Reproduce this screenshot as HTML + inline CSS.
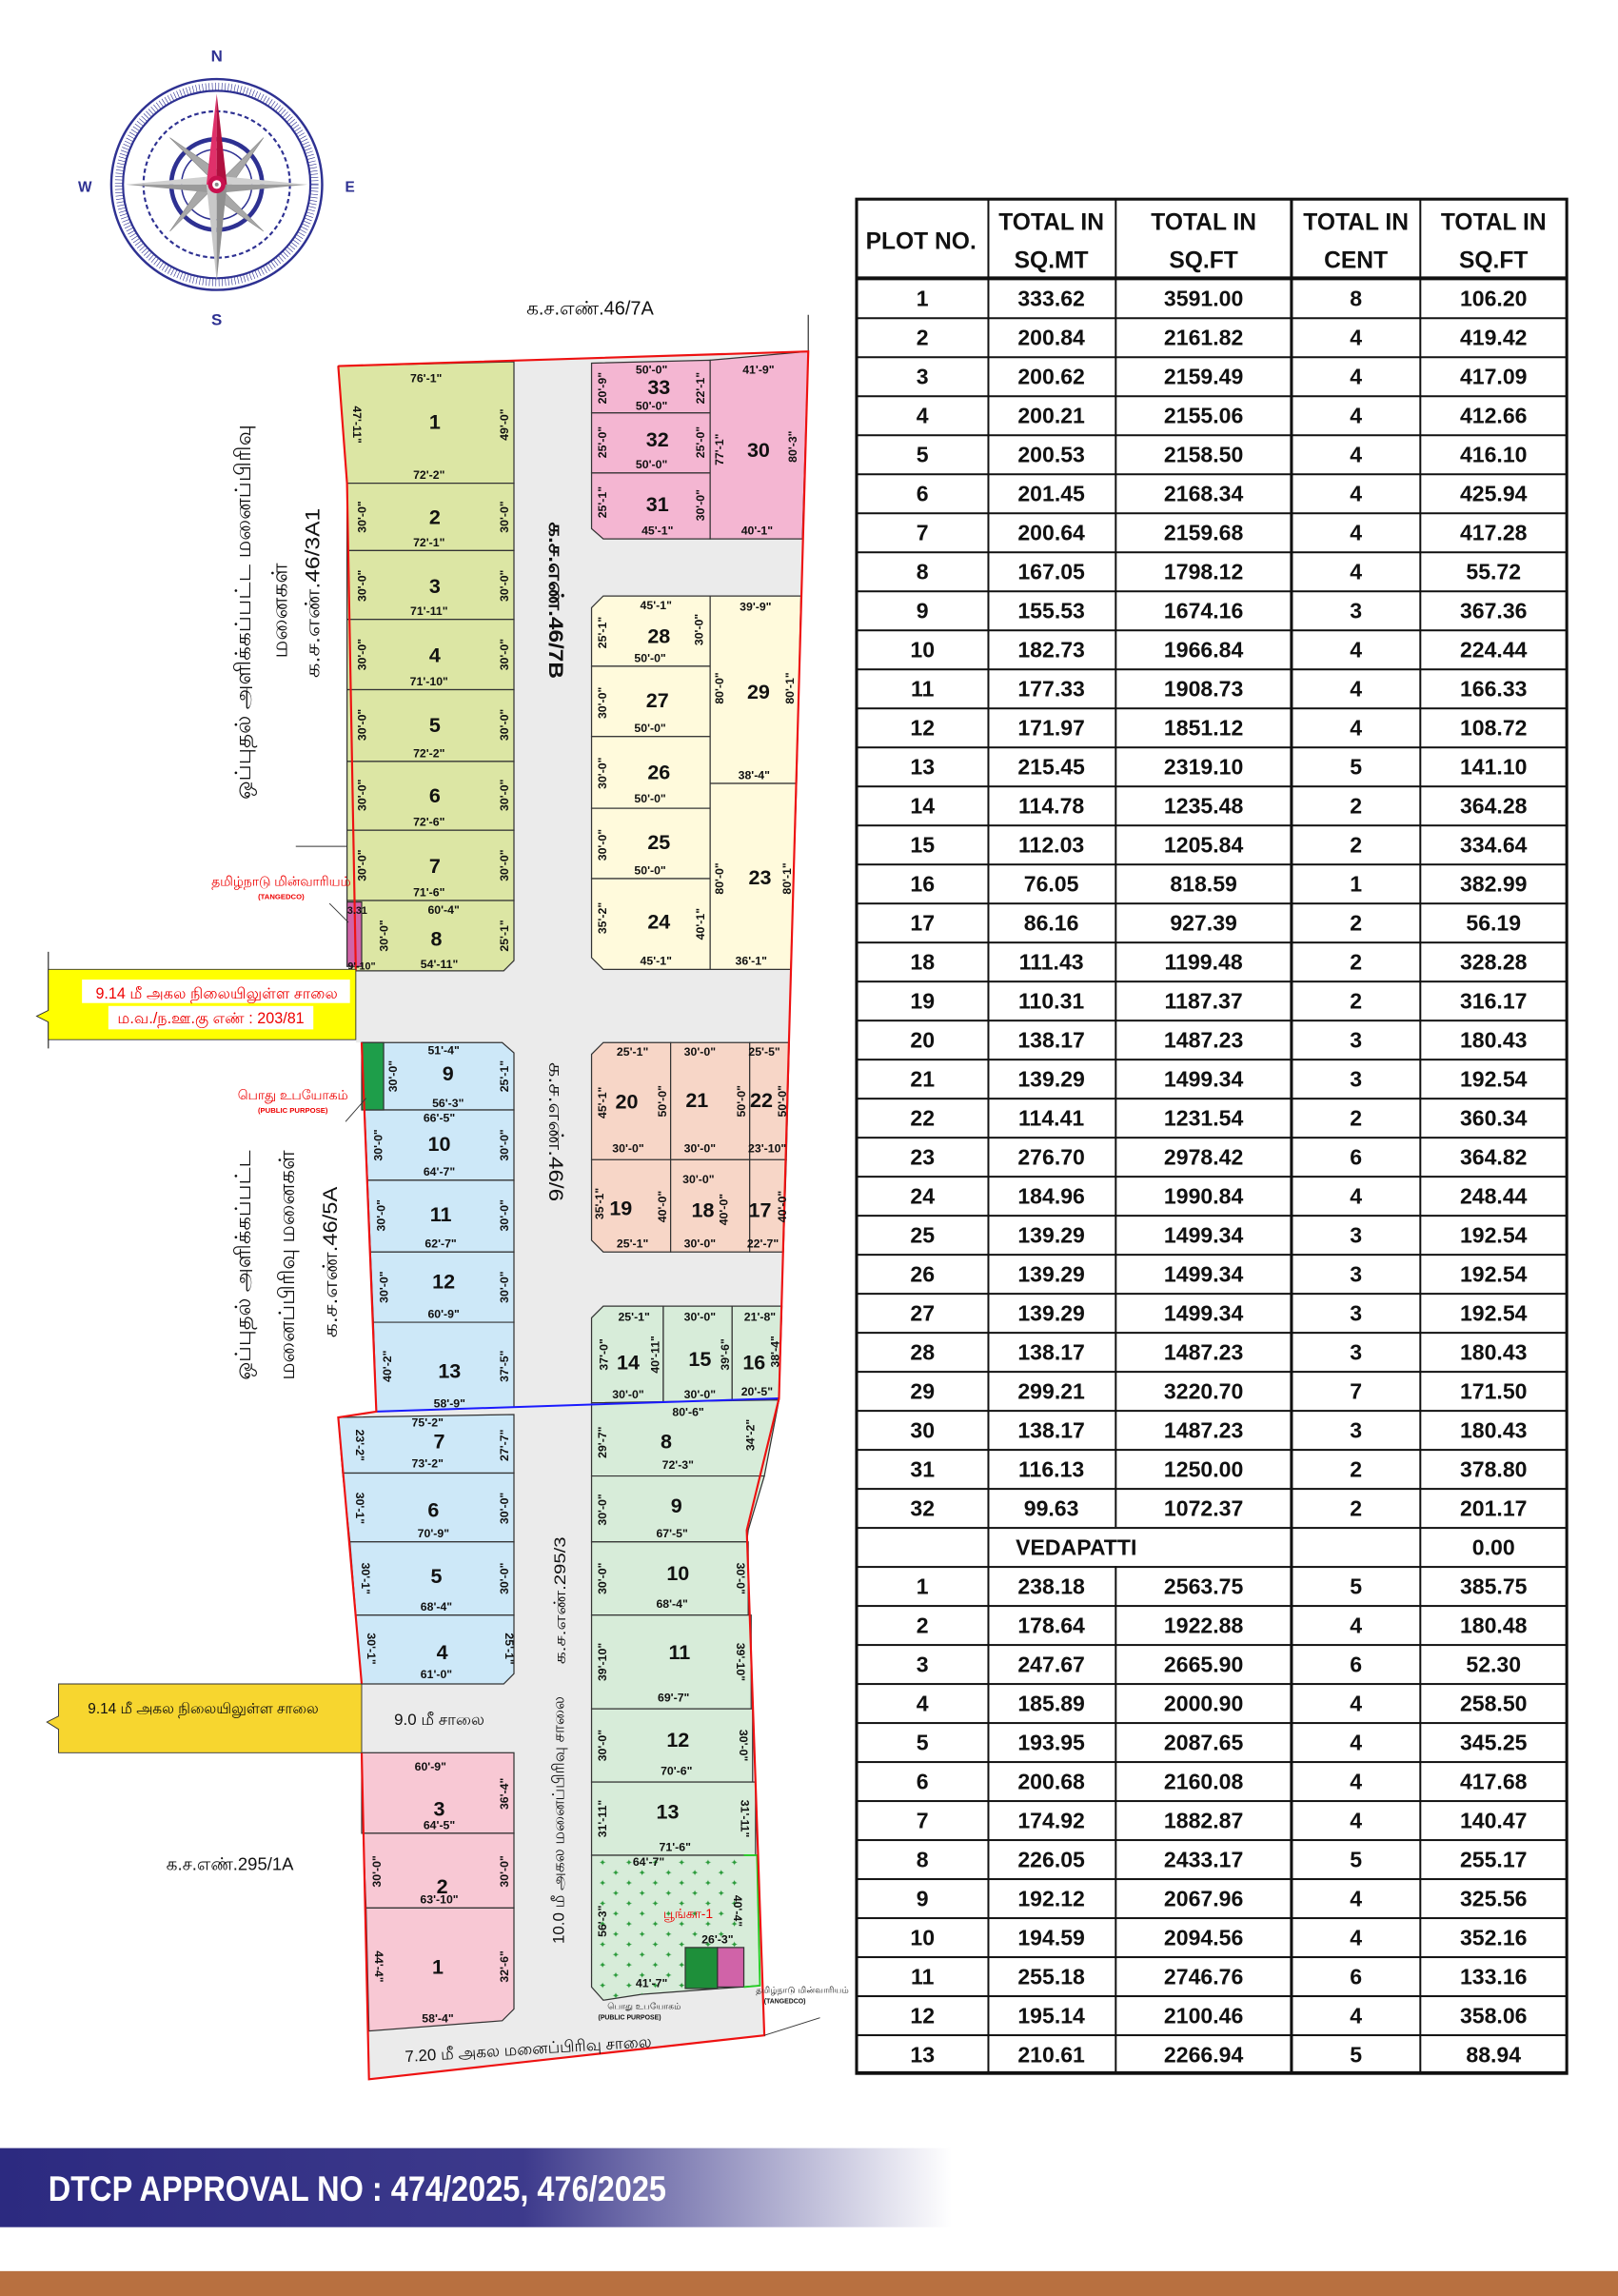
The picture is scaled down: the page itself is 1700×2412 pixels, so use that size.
<!DOCTYPE html>
<html><head><meta charset="utf-8">
<style>
html,body{margin:0;padding:0;background:#fff}
svg{display:block}
.n{font-family:"Liberation Sans",sans-serif;font-weight:bold;font-size:14px;text-anchor:middle;fill:#111}
.d{font-family:"Liberation Sans",sans-serif;font-weight:bold;font-size:8px;text-anchor:middle;fill:#111}
.tm{font-family:"Liberation Sans","DejaVu Sans",sans-serif;fill:#111}
.th{font-family:"Liberation Sans Narrow","Liberation Sans",sans-serif;font-weight:bold;font-size:16px;text-anchor:middle;fill:#111}
.tr tspan{text-anchor:middle}
.tr{font-family:"Liberation Sans Narrow","Liberation Sans",sans-serif;font-weight:bold;font-size:15px;fill:#111}
</style></head><body>
<svg width="1700" height="2412" viewBox="0 0 1105 1568" preserveAspectRatio="none" xmlns="http://www.w3.org/2000/svg">
<defs>
<pattern id="rows" x="0" y="190" width="10" height="26.65" patternUnits="userSpaceOnUse"><rect width="10" height="1.3" fill="#111"/></pattern>
<pattern id="park" x="0" y="0" width="18" height="14" patternUnits="userSpaceOnUse"><text x="4" y="7" font-size="6" fill="#2a9a3a" font-family="DejaVu Sans">✦</text><text x="13" y="14" font-size="6" fill="#2a9a3a" font-family="DejaVu Sans">✦</text></pattern>
<linearGradient id="ban" x1="0" x2="1" y1="0" y2="0"><stop offset="0" stop-color="#2c2a80"/><stop offset="0.55" stop-color="#3d3a8c"/><stop offset="1" stop-color="#fff"/></linearGradient>
</defs>

<!-- Compass -->
<g>
<circle cx="148" cy="126" r="72" fill="none" stroke="#2e3192" stroke-width="1.6"/>
<circle cx="148" cy="126" r="64" fill="none" stroke="#2e3192" stroke-width="1.4"/>
<circle cx="148" cy="126" r="67" fill="none" stroke="#2e3192" stroke-width="5" stroke-dasharray="0.4 1.8"/>
<circle cx="148" cy="126" r="50" fill="none" stroke="#2e3192" stroke-width="1.4" stroke-dasharray="3 2"/>
<circle cx="148" cy="126" r="31" fill="none" stroke="#2e3192" stroke-width="3"/>
<circle cx="148" cy="126" r="24" fill="none" stroke="#2e3192" stroke-width="1"/>
<g fill="#a8a8a8" stroke="#888" stroke-width="0.4">
<polygon points="148,126 116,94 154,120"/>
<polygon points="148,126 180,94 154,132"/>
<polygon points="148,126 180,158 142,132"/>
<polygon points="148,126 116,158 142,120"/>
</g>
<polygon points="86,126 148,120 148,126" fill="#d0d0d0"/><polygon points="86,126 148,132 148,126" fill="#9a9a9a"/>
<polygon points="210,126 148,120 148,126" fill="#d0d0d0"/><polygon points="210,126 148,132 148,126" fill="#9a9a9a"/>
<polygon points="148,192 141,126 148,126" fill="#c8c8c8"/><polygon points="148,192 155,126 148,126" fill="#8f8f8f"/>
<polygon points="148,64 141,126 148,126" fill="#e0306a"/><polygon points="148,64 155,126 148,126" fill="#b0103f"/>
<circle cx="148" cy="126" r="6" fill="#c8104e"/><circle cx="148" cy="126" r="3" fill="#fff"/><circle cx="148" cy="126" r="1.3" fill="#888"/>
<text x="148" y="42" class="n" style="font-size:11px;fill:#2e3192">N</text>
<text x="148" y="222" class="n" style="font-size:11px;fill:#2e3192">S</text>
<text x="58" y="131" class="n" style="font-size:10px;fill:#2e3192">W</text>
<text x="239" y="131" class="n" style="font-size:10px;fill:#2e3192">E</text>
</g>

<text x="403" y="215" class="tm" font-size="13" text-anchor="middle" font-family="Liberation Serif">க.ச.எண்.46/7A</text>
<line x1="552" y1="215" x2="552" y2="242" stroke="#333" stroke-width="0.8"/>

<!-- road background -->
<polygon points="231,250 552,240 532,955 510,1045 522,1390 252,1420 247,1197 247,1150 231,968 257,964 247,712 243,712 243,663 240,663 237,330" fill="#ebebeb"/>

<g stroke="#333" stroke-width="0.8">
<g fill="#dce6a4">
<polygon points="231,250 351,247 351,330 237,330"/>
<rect x="237" y="330" width="114" height="46"/>
<rect x="237" y="376" width="114" height="47"/>
<rect x="237" y="423" width="114" height="48"/>
<rect x="237" y="471" width="114" height="49"/>
<rect x="237" y="520" width="114" height="47"/>
<rect x="237" y="567" width="114" height="48"/>
<polygon points="237,615 351,615 351,656 344,663 240,663"/>
</g>
<rect x="237" y="616" width="10" height="44" fill="#d063a8"/>
<g fill="#cde8f8">
<polygon points="247,712 343,712 351,719 351,758 249,758"/>
<polygon points="249,758 351,758 351,806 251,806"/>
<polygon points="251,806 351,806 351,855 253,855"/>
<polygon points="253,855 351,855 351,903 255,903"/>
<polygon points="255,903 351,903 351,961 257,964"/>
<polygon points="231,968 351,966 351,1006 234,1006"/>
<polygon points="234,1006 351,1006 351,1053 239,1053"/>
<polygon points="239,1053 351,1053 351,1103 243,1103"/>
<polygon points="243,1103 351,1103 351,1143 344,1150 247,1150"/>
</g>
<rect x="247" y="712" width="15" height="46" fill="#1e9e4a"/>
<g fill="#f8c8d4">
<rect x="247" y="1197" width="104" height="55"/>
<polygon points="248,1252 351,1252 351,1303 250,1303"/>
<polygon points="250,1303 351,1303 351,1372 343,1380 252,1387"/>
</g>
<g fill="#f4b6d2">
<polygon points="404,248 485,246 485,282 404,282"/>
<rect x="404" y="282" width="81" height="41"/>
<polygon points="404,323 485,323 485,368 412,368 404,361"/>
<polygon points="485,246 552,240 548,368 485,368"/>
</g>
<g fill="#fffadc">
<polygon points="412,407 485,407 485,455 404,455 404,415"/>
<rect x="404" y="455" width="81" height="48"/>
<rect x="404" y="503" width="81" height="49"/>
<rect x="404" y="552" width="81" height="48"/>
<polygon points="404,600 485,600 485,662 412,662 404,654"/>
<polygon points="485,407 547,407 544,535 485,535"/>
<polygon points="485,535 544,535 540,662 485,662"/>
</g>
<g fill="#f7d6c7">
<polygon points="412,712 458,712 458,792 404,792 404,720"/>
<rect x="458" y="712" width="54" height="80"/>
<polygon points="512,712 539,712 537,792 512,792"/>
<polygon points="404,792 458,792 458,855 412,855 404,847"/>
<rect x="458" y="792" width="54" height="63"/>
<polygon points="512,792 537,792 535,855 512,855"/>
</g>
<g fill="#d7ecd9">
<polygon points="412,892 453,892 453,958 404,958 404,900"/>
<rect x="453" y="892" width="47" height="66"/>
<polygon points="500,892 534,892 532,956 500,957"/>
<polygon points="404,958 532,956 522,1008 404,1008"/>
<polygon points="404,1008 522,1008 511,1045 510,1053 404,1053"/>
<rect x="404" y="1053" width="107" height="50"/>
<rect x="404" y="1103" width="109" height="64"/>
<rect x="404" y="1167" width="110" height="50"/>
<rect x="404" y="1217" width="112" height="50"/>
</g>
<polygon points="404,1267 517,1267 519,1356 438,1362 412,1366 404,1357" fill="#d7ecd9"/>
<polygon points="404,1267 508,1267 508,1357 438,1362 412,1366 404,1357" fill="url(#park)" stroke="none"/>
<rect x="468" y="1330" width="22" height="28" fill="#1e8f3a"/>
<rect x="490" y="1330" width="18" height="27" fill="#d063a8"/>
</g>
<polyline points="508,1267 517,1267 519,1356 508,1357" fill="none" stroke="#22cc22" stroke-width="1.2"/>
<line x1="257" y1="964" x2="532" y2="955" stroke="#1a1aff" stroke-width="1.3"/>
<polyline points="231,250 552,240 532,955 510,1045 522,1390 252,1420 247,1197" fill="none" stroke="#ee1111" stroke-width="1.4"/>
<polyline points="247,1150 231,968 257,964 247,712" fill="none" stroke="#ee1111" stroke-width="1.4"/>
<polyline points="243,663 237,330 231,250" fill="none" stroke="#ee1111" stroke-width="1.4"/>
<line x1="522" y1="1390" x2="560" y2="1378" stroke="#333" stroke-width="0.6"/>

<text class="n" x="297" y="293">1</text><text class="d" x="291" y="261">76'-1"</text><text class="d" x="293" y="327">72'-2"</text>
<text class="d" transform="translate(241 290) rotate(90)">47'-11"</text><text class="d" transform="translate(347 290) rotate(-90)">49'-0"</text>
<text class="n" x="297" y="358">2</text><text class="d" x="293" y="373">72'-1"</text>
<text class="n" x="297" y="405">3</text><text class="d" x="293" y="420">71'-11"</text>
<text class="n" x="297" y="452">4</text><text class="d" x="293" y="468">71'-10"</text>
<text class="n" x="297" y="500">5</text><text class="d" x="293" y="517">72'-2"</text>
<text class="n" x="297" y="548">6</text><text class="d" x="293" y="564">72'-6"</text>
<text class="n" x="297" y="596">7</text><text class="d" x="293" y="612">71'-6"</text>
<text class="n" x="298" y="646">8</text><text class="d" x="303" y="624">60'-4"</text><text class="d" x="300" y="661">54'-11"</text>
<g class="d">
<text transform="translate(250 353) rotate(-90)">30'-0"</text><text transform="translate(347 353) rotate(-90)">30'-0"</text>
<text transform="translate(250 400) rotate(-90)">30'-0"</text><text transform="translate(347 400) rotate(-90)">30'-0"</text>
<text transform="translate(250 447) rotate(-90)">30'-0"</text><text transform="translate(347 447) rotate(-90)">30'-0"</text>
<text transform="translate(250 495) rotate(-90)">30'-0"</text><text transform="translate(347 495) rotate(-90)">30'-0"</text>
<text transform="translate(250 543) rotate(-90)">30'-0"</text><text transform="translate(347 543) rotate(-90)">30'-0"</text>
<text transform="translate(250 591) rotate(-90)">30'-0"</text><text transform="translate(347 591) rotate(-90)">30'-0"</text>
<text transform="translate(265 639) rotate(-90)">30'-0"</text><text transform="translate(347 639) rotate(-90)">25'-1"</text>
<text x="244" y="624" style="font-size:7px">3.31</text><text x="247" y="662" style="font-size:7px">9'-10"</text>
</g>
<text class="n" x="306" y="738">9</text><text class="d" x="303" y="720">51'-4"</text><text class="d" x="306" y="756">56'-3"</text>
<text class="n" x="300" y="786">10</text><text class="d" x="300" y="766">66'-5"</text><text class="d" x="300" y="803">64'-7"</text>
<text class="n" x="301" y="834">11</text><text class="d" x="301" y="852">62'-7"</text>
<text class="n" x="303" y="880">12</text><text class="d" x="303" y="900">60'-9"</text>
<text class="n" x="307" y="941">13</text><text class="d" x="307" y="961">58'-9"</text>
<g class="d">
<text transform="translate(271 735) rotate(-90)">30'-0"</text><text transform="translate(347 735) rotate(-90)">25'-1"</text>
<text transform="translate(261 782) rotate(-90)">30'-0"</text><text transform="translate(347 782) rotate(-90)">30'-0"</text>
<text transform="translate(263 830) rotate(-90)">30'-0"</text><text transform="translate(347 830) rotate(-90)">30'-0"</text>
<text transform="translate(265 879) rotate(-90)">30'-0"</text><text transform="translate(347 879) rotate(-90)">30'-0"</text>
<text transform="translate(267 933) rotate(-90)">40'-2"</text><text transform="translate(347 933) rotate(-90)">37'-5"</text>
</g>
<text class="n" x="300" y="989">7</text><text class="d" x="292" y="974">75'-2"</text><text class="d" x="292" y="1002">73'-2"</text>
<text class="n" x="296" y="1036">6</text><text class="d" x="296" y="1050">70'-9"</text>
<text class="n" x="298" y="1081">5</text><text class="d" x="298" y="1100">68'-4"</text>
<text class="n" x="302" y="1133">4</text><text class="d" x="298" y="1146">61'-0"</text>
<g class="d">
<text transform="translate(243 987) rotate(90)">23'-2"</text><text transform="translate(347 987) rotate(-90)">27'-7"</text>
<text transform="translate(243 1030) rotate(90)">30'-1"</text><text transform="translate(347 1030) rotate(-90)">30'-0"</text>
<text transform="translate(247 1078) rotate(90)">30'-1"</text><text transform="translate(347 1078) rotate(-90)">30'-0"</text>
<text transform="translate(251 1126) rotate(90)">30'-1"</text><text transform="translate(345 1126) rotate(90)">25'-1"</text>
</g>
<text class="n" x="300" y="1240">3</text><text class="d" x="294" y="1209">60'-9"</text><text class="d" x="300" y="1249">64'-5"</text>
<text class="n" x="302" y="1293">2</text><text class="d" x="300" y="1300">63'-10"</text>
<text class="n" x="299" y="1348">1</text><text class="d" x="299" y="1381">58'-4"</text>
<g class="d">
<text transform="translate(347 1225) rotate(-90)">36'-4"</text>
<text transform="translate(260 1278) rotate(-90)">30'-0"</text><text transform="translate(347 1278) rotate(-90)">30'-0"</text>
<text transform="translate(256 1343) rotate(90)">44'-4"</text><text transform="translate(347 1343) rotate(-90)">32'-6"</text>
</g>
<text class="n" x="450" y="269">33</text><text class="d" x="445" y="255">50'-0"</text><text class="d" x="445" y="280">50'-0"</text>
<text class="n" x="449" y="305">32</text><text class="d" x="445" y="320">50'-0"</text>
<text class="n" x="449" y="349">31</text><text class="d" x="449" y="365">45'-1"</text>
<text class="n" x="518" y="312">30</text><text class="d" x="518" y="255">41'-9"</text><text class="d" x="517" y="365">40'-1"</text>
<g class="d">
<text transform="translate(414 265) rotate(-90)">20'-9"</text><text transform="translate(481 265) rotate(-90)">22'-1"</text>
<text transform="translate(414 302) rotate(-90)">25'-0"</text><text transform="translate(481 302) rotate(-90)">25'-0"</text>
<text transform="translate(414 343) rotate(-90)">25'-1"</text><text transform="translate(481 345) rotate(-90)">30'-0"</text>
<text transform="translate(494 307) rotate(-90)">77'-1"</text><text transform="translate(544 305) rotate(-90)">80'-3"</text>
</g>
<text class="n" x="450" y="439">28</text><text class="d" x="448" y="416">45'-1"</text><text class="d" x="444" y="452">50'-0"</text>
<text class="n" x="449" y="483">27</text><text class="d" x="444" y="500">50'-0"</text>
<text class="n" x="450" y="532">26</text><text class="d" x="444" y="548">50'-0"</text>
<text class="n" x="450" y="580">25</text><text class="d" x="444" y="597">50'-0"</text>
<text class="n" x="450" y="634">24</text><text class="d" x="448" y="659">45'-1"</text>
<text class="n" x="518" y="477">29</text><text class="d" x="516" y="417">39'-9"</text><text class="d" x="515" y="532">38'-4"</text>
<text class="n" x="519" y="604">23</text><text class="d" x="513" y="659">36'-1"</text>
<g class="d">
<text transform="translate(414 432) rotate(-90)">25'-1"</text><text transform="translate(480 430) rotate(-90)">30'-0"</text>
<text transform="translate(414 480) rotate(-90)">30'-0"</text>
<text transform="translate(414 528) rotate(-90)">30'-0"</text>
<text transform="translate(414 577) rotate(-90)">30'-0"</text>
<text transform="translate(414 627) rotate(-90)">35'-2"</text><text transform="translate(481 631) rotate(-90)">40'-1"</text>
<text transform="translate(494 470) rotate(-90)">80'-0"</text><text transform="translate(542 470) rotate(-90)">80'-1"</text>
<text transform="translate(494 600) rotate(-90)">80'-0"</text><text transform="translate(540 600) rotate(-90)">80'-1"</text>
</g>
<text class="n" x="428" y="757">20</text><text class="d" x="432" y="721">25'-1"</text><text class="d" x="429" y="787">30'-0"</text>
<text class="n" x="476" y="756">21</text><text class="d" x="478" y="721">30'-0"</text><text class="d" x="478" y="787">30'-0"</text>
<text class="n" x="520" y="756">22</text><text class="d" x="522" y="721">25'-5"</text><text class="d" x="524" y="787">23'-10"</text>
<text class="n" x="424" y="830">19</text><text class="d" x="432" y="852">25'-1"</text>
<text class="n" x="480" y="831">18</text><text class="d" x="477" y="808">30'-0"</text><text class="d" x="478" y="852">30'-0"</text>
<text class="n" x="519" y="831">17</text><text class="d" x="521" y="852">22'-7"</text>
<g class="d">
<text transform="translate(414 753) rotate(-90)">45'-1"</text><text transform="translate(455 752) rotate(-90)">50'-0"</text>
<text transform="translate(509 752) rotate(-90)">50'-0"</text><text transform="translate(537 752) rotate(-90)">50'-0"</text>
<text transform="translate(412 822) rotate(-90)">35'-1"</text><text transform="translate(455 824) rotate(-90)">40'-0"</text>
<text transform="translate(497 826) rotate(-90)">40'-0"</text><text transform="translate(537 824) rotate(-90)">40'-0"</text>
</g>
<text class="n" x="429" y="935">14</text><text class="d" x="433" y="902">25'-1"</text><text class="d" x="429" y="955">30'-0"</text>
<text class="n" x="478" y="933">15</text><text class="d" x="478" y="902">30'-0"</text><text class="d" x="478" y="955">30'-0"</text>
<text class="n" x="515" y="935">16</text><text class="d" x="519" y="902">21'-8"</text><text class="d" x="517" y="953">20'-5"</text>
<g class="d">
<text transform="translate(415 925) rotate(-90)">37'-0"</text><text transform="translate(450 925) rotate(-90)">40'-11"</text>
<text transform="translate(498 925) rotate(-90)">39'-6"</text><text transform="translate(532 923) rotate(-90)">38'-4"</text>
</g>
<text class="n" x="455" y="989">8</text><text class="d" x="470" y="967">80'-6"</text><text class="d" x="463" y="1003">72'-3"</text>
<text class="n" x="462" y="1033">9</text><text class="d" x="459" y="1050">67'-5"</text>
<text class="n" x="463" y="1079">10</text><text class="d" x="459" y="1098">68'-4"</text>
<text class="n" x="464" y="1133">11</text><text class="d" x="460" y="1162">69'-7"</text>
<text class="n" x="463" y="1193">12</text><text class="d" x="462" y="1212">70'-6"</text>
<text class="n" x="456" y="1242">13</text><text class="d" x="461" y="1264">71'-6"</text>
<g class="d">
<text transform="translate(414 985) rotate(-90)">29'-7"</text><text transform="translate(515 980) rotate(-90)">34'-2"</text>
<text transform="translate(414 1031) rotate(-90)">30'-0"</text>
<text transform="translate(414 1078) rotate(-90)">30'-0"</text><text transform="translate(503 1078) rotate(90)">30'-0"</text>
<text transform="translate(414 1135) rotate(-90)">39'-10"</text><text transform="translate(503 1135) rotate(90)">39'-10"</text>
<text transform="translate(414 1192) rotate(-90)">30'-0"</text><text transform="translate(505 1192) rotate(90)">30'-0"</text>
<text transform="translate(414 1242) rotate(-90)">31'-11"</text><text transform="translate(506 1242) rotate(90)">31'-11"</text>
<text x="443" y="1274">64'-7"</text>
<text transform="translate(414 1312) rotate(-90)">56'-3"</text><text transform="translate(501 1305) rotate(90)">40'-4"</text>
<text x="490" y="1327">26'-3"</text><text x="445" y="1357">41'-7"</text>
</g>
<text x="453" y="1310" class="tm" font-size="9" style="fill:#e00">பூங்கா-1</text>
<text x="440" y="1372" class="tm" font-size="6" text-anchor="middle">பொது உபயோகம்</text>
<text x="430" y="1379" class="d" style="font-size:4.5px">(PUBLIC PURPOSE)</text>
<text x="548" y="1361" class="tm" font-size="6" text-anchor="middle">தமிழ்நாடு மின்வாரியம்</text>
<text x="536" y="1368" class="d" style="font-size:4.5px">(TANGEDCO)</text>

<text class="tm" font-size="15" text-anchor="middle" textLength="256" lengthAdjust="spacingAndGlyphs" transform="translate(171 418) rotate(-90)">ஒப்புதல்  அளிக்கப்பட்ட  மனைப்பிரிவு</text>
<text class="tm" font-size="15" text-anchor="middle" textLength="65" lengthAdjust="spacingAndGlyphs" transform="translate(196 417) rotate(-90)">மனைகள்</text>
<text class="tm" font-size="14" font-family="Liberation Serif" text-anchor="middle" textLength="116" lengthAdjust="spacingAndGlyphs" transform="translate(218 405) rotate(-90)">க.ச.எண்.46/3A1</text>
<text class="tm" font-size="15" text-anchor="middle" textLength="157" lengthAdjust="spacingAndGlyphs" transform="translate(171 864) rotate(-90)">ஒப்புதல்  அளிக்கப்பட்ட</text>
<text class="tm" font-size="15" text-anchor="middle" textLength="157" lengthAdjust="spacingAndGlyphs" transform="translate(201 864) rotate(-90)">மனைப்பிரிவு மனைகள்</text>
<text class="tm" font-size="14" font-family="Liberation Serif" text-anchor="middle" textLength="103" lengthAdjust="spacingAndGlyphs" transform="translate(230 862) rotate(-90)">க.ச.எண்.46/5A</text>
<text class="tm" font-size="14" font-family="Liberation Serif" font-weight="bold" text-anchor="middle" textLength="107" lengthAdjust="spacingAndGlyphs" transform="translate(375 410) rotate(90)">க.ச.எண்.46/7B</text>
<text class="tm" font-size="14" font-family="Liberation Serif" text-anchor="middle" textLength="95" lengthAdjust="spacingAndGlyphs" transform="translate(375 773) rotate(90)">க.ச.எண்.46/6</text>
<text class="tm" font-size="11" text-anchor="middle" textLength="87" lengthAdjust="spacingAndGlyphs" transform="translate(386 1093) rotate(-90)">க.ச.எண்.295/3</text>
<text class="tm" font-size="11" text-anchor="middle" textLength="169" lengthAdjust="spacingAndGlyphs" transform="translate(385 1243) rotate(-90)">10.0 மீ அகல மனைப்பிரிவு சாலை</text>
<text class="tm" x="300" y="1178" font-size="11" text-anchor="middle">9.0 மீ சாலை</text>
<text class="tm" font-size="11" text-anchor="middle" transform="translate(361 1403) rotate(-3.5)">7.20 மீ அகல மனைப்பிரிவு சாலை</text>
<text class="tm" x="157" y="1277" font-size="12" text-anchor="middle" font-family="Liberation Serif">க.ச.எண்.295/1A</text>

<line x1="33" y1="650" x2="33" y2="716" stroke="#333" stroke-width="0.8"/>
<polygon points="33,662 243,662 243,710 33,710 33,698 25,694 33,690" fill="#ffff00" stroke="#333" stroke-width="0.6"/>
<rect x="56" y="669" width="183" height="16" fill="#fff"/>
<rect x="74" y="687" width="140" height="16" fill="#fff"/>
<text x="148" y="682" class="tm" font-size="10.5" text-anchor="middle" style="fill:#e00">9.14 மீ  அகல நிலையிலுள்ள சாலை</text>
<text x="144" y="699" class="tm" font-size="10.5" text-anchor="middle" style="fill:#e00">ம.வ./ந.ஊ.கு எண் : 203/81</text>
<polygon points="40,1150 247,1150 247,1197 40,1197 40,1181 32,1176 40,1172" fill="#f7d62f" stroke="#333" stroke-width="0.6"/>
<text x="60" y="1170" class="tm" font-size="10">9.14 மீ  அகல நிலையிலுள்ள சாலை</text>
<text x="192" y="605" class="tm" font-size="9" text-anchor="middle" style="fill:#e00">தமிழ்நாடு மின்வாரியம்</text>
<text x="192" y="614" class="d" style="font-size:5px;fill:#e00">(TANGEDCO)</text>
<line x1="202" y1="578" x2="237" y2="578" stroke="#333" stroke-width="0.6"/>
<line x1="225" y1="617" x2="238" y2="630" stroke="#333" stroke-width="0.6"/>
<text x="200" y="751" class="tm" font-size="9" text-anchor="middle" style="fill:#e00">பொது உபயோகம்</text>
<text x="200" y="760" class="d" style="font-size:5px;fill:#e00">(PUBLIC PURPOSE)</text>
<line x1="236" y1="766" x2="250" y2="750" stroke="#333" stroke-width="0.6"/>

<rect x="585" y="136" width="485" height="1280" fill="#fff" stroke="#111" stroke-width="2"/>
<rect x="585" y="190" width="485" height="1226" fill="url(#rows)"/>
<line x1="585" y1="190" x2="1070" y2="190" stroke="#111" stroke-width="2.5"/>
<line x1="675" y1="136" x2="675" y2="1416" stroke="#111" stroke-width="1.3"/>
<line x1="762" y1="136" x2="762" y2="1042.8" stroke="#111" stroke-width="1.3"/>
<line x1="762" y1="1069.5" x2="762" y2="1416" stroke="#111" stroke-width="1.3"/>
<line x1="882" y1="136" x2="882" y2="1416" stroke="#111" stroke-width="2"/>
<line x1="970" y1="136" x2="970" y2="1416" stroke="#111" stroke-width="1.3"/>
<rect x="585" y="1414.5" width="485" height="1.5" fill="#111"/>
<text class="th" x="629" y="170">PLOT NO.</text>
<text class="th" x="718" y="157">TOTAL IN</text><text class="th" x="718" y="183">SQ.MT</text>
<text class="th" x="822" y="157">TOTAL IN</text><text class="th" x="822" y="183">SQ.FT</text>
<text class="th" x="926" y="157">TOTAL IN</text><text class="th" x="926" y="183">CENT</text>
<text class="th" x="1020" y="157">TOTAL IN</text><text class="th" x="1020" y="183">SQ.FT</text>
<g class="tr">
<text y="209"><tspan x="630">1</tspan><tspan x="718">333.62</tspan><tspan x="822">3591.00</tspan><tspan x="926">8</tspan><tspan x="1020">106.20</tspan></text>
<text y="235.7"><tspan x="630">2</tspan><tspan x="718">200.84</tspan><tspan x="822">2161.82</tspan><tspan x="926">4</tspan><tspan x="1020">419.42</tspan></text>
<text y="262.3"><tspan x="630">3</tspan><tspan x="718">200.62</tspan><tspan x="822">2159.49</tspan><tspan x="926">4</tspan><tspan x="1020">417.09</tspan></text>
<text y="289"><tspan x="630">4</tspan><tspan x="718">200.21</tspan><tspan x="822">2155.06</tspan><tspan x="926">4</tspan><tspan x="1020">412.66</tspan></text>
<text y="315.6"><tspan x="630">5</tspan><tspan x="718">200.53</tspan><tspan x="822">2158.50</tspan><tspan x="926">4</tspan><tspan x="1020">416.10</tspan></text>
<text y="342.3"><tspan x="630">6</tspan><tspan x="718">201.45</tspan><tspan x="822">2168.34</tspan><tspan x="926">4</tspan><tspan x="1020">425.94</tspan></text>
<text y="368.9"><tspan x="630">7</tspan><tspan x="718">200.64</tspan><tspan x="822">2159.68</tspan><tspan x="926">4</tspan><tspan x="1020">417.28</tspan></text>
<text y="395.6"><tspan x="630">8</tspan><tspan x="718">167.05</tspan><tspan x="822">1798.12</tspan><tspan x="926">4</tspan><tspan x="1020">55.72</tspan></text>
<text y="422.2"><tspan x="630">9</tspan><tspan x="718">155.53</tspan><tspan x="822">1674.16</tspan><tspan x="926">3</tspan><tspan x="1020">367.36</tspan></text>
<text y="448.9"><tspan x="630">10</tspan><tspan x="718">182.73</tspan><tspan x="822">1966.84</tspan><tspan x="926">4</tspan><tspan x="1020">224.44</tspan></text>
<text y="475.5"><tspan x="630">11</tspan><tspan x="718">177.33</tspan><tspan x="822">1908.73</tspan><tspan x="926">4</tspan><tspan x="1020">166.33</tspan></text>
<text y="502.2"><tspan x="630">12</tspan><tspan x="718">171.97</tspan><tspan x="822">1851.12</tspan><tspan x="926">4</tspan><tspan x="1020">108.72</tspan></text>
<text y="528.8"><tspan x="630">13</tspan><tspan x="718">215.45</tspan><tspan x="822">2319.10</tspan><tspan x="926">5</tspan><tspan x="1020">141.10</tspan></text>
<text y="555.5"><tspan x="630">14</tspan><tspan x="718">114.78</tspan><tspan x="822">1235.48</tspan><tspan x="926">2</tspan><tspan x="1020">364.28</tspan></text>
<text y="582.1"><tspan x="630">15</tspan><tspan x="718">112.03</tspan><tspan x="822">1205.84</tspan><tspan x="926">2</tspan><tspan x="1020">334.64</tspan></text>
<text y="608.8"><tspan x="630">16</tspan><tspan x="718">76.05</tspan><tspan x="822">818.59</tspan><tspan x="926">1</tspan><tspan x="1020">382.99</tspan></text>
<text y="635.4"><tspan x="630">17</tspan><tspan x="718">86.16</tspan><tspan x="822">927.39</tspan><tspan x="926">2</tspan><tspan x="1020">56.19</tspan></text>
<text y="662.1"><tspan x="630">18</tspan><tspan x="718">111.43</tspan><tspan x="822">1199.48</tspan><tspan x="926">2</tspan><tspan x="1020">328.28</tspan></text>
<text y="688.7"><tspan x="630">19</tspan><tspan x="718">110.31</tspan><tspan x="822">1187.37</tspan><tspan x="926">2</tspan><tspan x="1020">316.17</tspan></text>
<text y="715.4"><tspan x="630">20</tspan><tspan x="718">138.17</tspan><tspan x="822">1487.23</tspan><tspan x="926">3</tspan><tspan x="1020">180.43</tspan></text>
<text y="742"><tspan x="630">21</tspan><tspan x="718">139.29</tspan><tspan x="822">1499.34</tspan><tspan x="926">3</tspan><tspan x="1020">192.54</tspan></text>
<text y="768.7"><tspan x="630">22</tspan><tspan x="718">114.41</tspan><tspan x="822">1231.54</tspan><tspan x="926">2</tspan><tspan x="1020">360.34</tspan></text>
<text y="795.3"><tspan x="630">23</tspan><tspan x="718">276.70</tspan><tspan x="822">2978.42</tspan><tspan x="926">6</tspan><tspan x="1020">364.82</tspan></text>
<text y="822"><tspan x="630">24</tspan><tspan x="718">184.96</tspan><tspan x="822">1990.84</tspan><tspan x="926">4</tspan><tspan x="1020">248.44</tspan></text>
<text y="848.6"><tspan x="630">25</tspan><tspan x="718">139.29</tspan><tspan x="822">1499.34</tspan><tspan x="926">3</tspan><tspan x="1020">192.54</tspan></text>
<text y="875.3"><tspan x="630">26</tspan><tspan x="718">139.29</tspan><tspan x="822">1499.34</tspan><tspan x="926">3</tspan><tspan x="1020">192.54</tspan></text>
<text y="901.9"><tspan x="630">27</tspan><tspan x="718">139.29</tspan><tspan x="822">1499.34</tspan><tspan x="926">3</tspan><tspan x="1020">192.54</tspan></text>
<text y="928.6"><tspan x="630">28</tspan><tspan x="718">138.17</tspan><tspan x="822">1487.23</tspan><tspan x="926">3</tspan><tspan x="1020">180.43</tspan></text>
<text y="955.2"><tspan x="630">29</tspan><tspan x="718">299.21</tspan><tspan x="822">3220.70</tspan><tspan x="926">7</tspan><tspan x="1020">171.50</tspan></text>
<text y="981.9"><tspan x="630">30</tspan><tspan x="718">138.17</tspan><tspan x="822">1487.23</tspan><tspan x="926">3</tspan><tspan x="1020">180.43</tspan></text>
<text y="1008.5"><tspan x="630">31</tspan><tspan x="718">116.13</tspan><tspan x="822">1250.00</tspan><tspan x="926">2</tspan><tspan x="1020">378.80</tspan></text>
<text y="1035.2"><tspan x="630">32</tspan><tspan x="718">99.63</tspan><tspan x="822">1072.37</tspan><tspan x="926">2</tspan><tspan x="1020">201.17</tspan></text>
<text y="1061.8"><tspan x="735">VEDAPATTI</tspan><tspan x="1020">0.00</tspan></text>
<text y="1088.5"><tspan x="630">1</tspan><tspan x="718">238.18</tspan><tspan x="822">2563.75</tspan><tspan x="926">5</tspan><tspan x="1020">385.75</tspan></text>
<text y="1115.1"><tspan x="630">2</tspan><tspan x="718">178.64</tspan><tspan x="822">1922.88</tspan><tspan x="926">4</tspan><tspan x="1020">180.48</tspan></text>
<text y="1141.8"><tspan x="630">3</tspan><tspan x="718">247.67</tspan><tspan x="822">2665.90</tspan><tspan x="926">6</tspan><tspan x="1020">52.30</tspan></text>
<text y="1168.4"><tspan x="630">4</tspan><tspan x="718">185.89</tspan><tspan x="822">2000.90</tspan><tspan x="926">4</tspan><tspan x="1020">258.50</tspan></text>
<text y="1195.1"><tspan x="630">5</tspan><tspan x="718">193.95</tspan><tspan x="822">2087.65</tspan><tspan x="926">4</tspan><tspan x="1020">345.25</tspan></text>
<text y="1221.7"><tspan x="630">6</tspan><tspan x="718">200.68</tspan><tspan x="822">2160.08</tspan><tspan x="926">4</tspan><tspan x="1020">417.68</tspan></text>
<text y="1248.4"><tspan x="630">7</tspan><tspan x="718">174.92</tspan><tspan x="822">1882.87</tspan><tspan x="926">4</tspan><tspan x="1020">140.47</tspan></text>
<text y="1275"><tspan x="630">8</tspan><tspan x="718">226.05</tspan><tspan x="822">2433.17</tspan><tspan x="926">5</tspan><tspan x="1020">255.17</tspan></text>
<text y="1301.7"><tspan x="630">9</tspan><tspan x="718">192.12</tspan><tspan x="822">2067.96</tspan><tspan x="926">4</tspan><tspan x="1020">325.56</tspan></text>
<text y="1328.3"><tspan x="630">10</tspan><tspan x="718">194.59</tspan><tspan x="822">2094.56</tspan><tspan x="926">4</tspan><tspan x="1020">352.16</tspan></text>
<text y="1355"><tspan x="630">11</tspan><tspan x="718">255.18</tspan><tspan x="822">2746.76</tspan><tspan x="926">6</tspan><tspan x="1020">133.16</tspan></text>
<text y="1381.6"><tspan x="630">12</tspan><tspan x="718">195.14</tspan><tspan x="822">2100.46</tspan><tspan x="926">4</tspan><tspan x="1020">358.06</tspan></text>
<text y="1408.3"><tspan x="630">13</tspan><tspan x="718">210.61</tspan><tspan x="822">2266.94</tspan><tspan x="926">5</tspan><tspan x="1020">88.94</tspan></text>
</g>

<rect x="0" y="1467" width="650" height="54" fill="url(#ban)"/>
<text x="33" y="1503" font-family="Liberation Sans Narrow, Liberation Sans, sans-serif" font-weight="bold" font-size="24" fill="#fff" textLength="422" lengthAdjust="spacingAndGlyphs">DTCP APPROVAL NO :  474/2025, 476/2025</text>
<rect x="0" y="1551" width="1105" height="17" fill="#b87040"/>
</svg>
</body></html>
